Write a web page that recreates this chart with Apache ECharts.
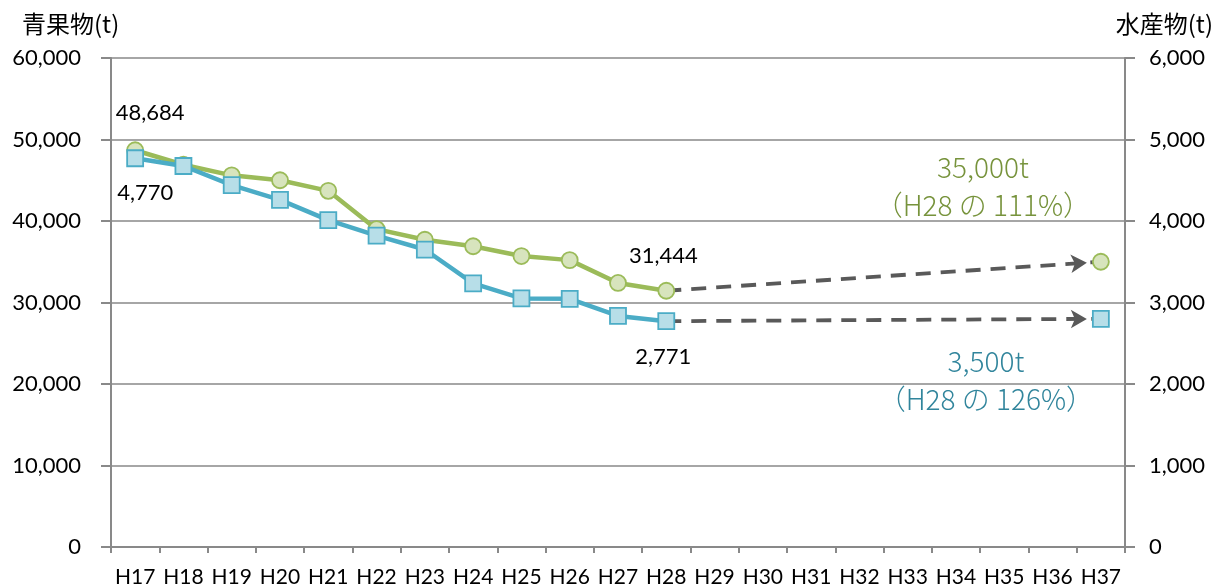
<!DOCTYPE html>
<html><head><meta charset="utf-8">
<script src="https://cdn.jsdelivr.net/npm/echarts@6/dist/echarts.min.js"></script>
<style>html,body{margin:0;padding:0;background:#fff}#c{width:1218px;height:588px}</style>
</head><body><div id="c"></div>
<script>
const categories = ['H17','H18','H19','H20','H21','H22','H23','H24','H25','H26','H27','H28','H29','H30','H31','H32','H33','H34','H35','H36','H37'];
const produce = [48684,46900,45600,45000,43700,39000,37700,36900,35700,35200,32400,31444,null,null,null,null,null,null,null,null,35000];
const seafood = [4770,4675,4440,4260,4010,3820,3650,3235,3050,3045,2835,2771,null,null,null,null,null,null,null,null,2800];
const leftTicks = [0,10000,20000,30000,40000,50000,60000];
const rightTicks = [0,1000,2000,3000,4000,5000,6000];
const produceTarget = ['35,000t','（H28 の 111%）'];
const seafoodTarget = ['3,500t','（H28 の 126%）'];
const leftTitle = '青果物(t)';
const rightTitle = '水産物(t)';

const FONT = 'Lato, "Noto Sans CJK JP", sans-serif';
const JFONT = '"Noto Sans CJK JP", Lato, sans-serif';
const fmt = v => v.toLocaleString('en-US');
const gray = '#898989';

function buildData(arr, labels) {
  return arr.map((v, i) => {
    if (v == null) return null;
    const item = { value: v };
    if (labels[i]) item.label = labels[i];
    return item;
  });
}
const lastIdx = categories.length - 1;
const baseIdx = 11;

const numLabel = (offset) => ({ show: true, position: 'inside', offset, formatter: p => fmt(p.value), color: '#000', fontSize: 22, fontFamily: FONT });
const noteLabel = (offset, lines, color) => ({ show: true, position: 'inside', offset, formatter: () => lines.join('\n'), color, fontSize: 28, fontWeight: 300, lineHeight: 38, fontFamily: JFONT, align: 'center' });

const produceLabels = {};
produceLabels[0] = numLabel([15, -37]);
produceLabels[baseIdx] = numLabel([-3, -35]);
produceLabels[lastIdx] = noteLabel([-118, -75], produceTarget, '#77933c');

const seafoodLabels = {};
seafoodLabels[0] = numLabel([10, 35]);
seafoodLabels[baseIdx] = numLabel([-3, 36]);
seafoodLabels[lastIdx] = noteLabel([-115, 62], seafoodTarget, '#31859c');

const arrowLine = {
  silent: true,
  z: 1,
  symbol: ['none', 'arrow'],
  symbolSize: [14, 16],
  symbolOffset: [0, [0, 14]],
  label: { show: false },
  lineStyle: { color: '#595959', width: 3.8, type: [15, 10] },
};

const titleStyle = (t) => ({ text: t, fill: '#000', fontSize: 24, fontFamily: '"Noto Sans CJK JP"' });

const chart = echarts.init(document.getElementById('c'), null, { renderer: 'canvas' });
chart.setOption({
  animation: false,
  backgroundColor: '#fff',
  textStyle: { fontFamily: FONT },
  grid: { left: 111, right: 93, top: 58, bottom: 41 },
  graphic: [
    { type: 'text', left: 22, top: 12, style: titleStyle(leftTitle) },
    { type: 'text', right: 5, top: 12, style: titleStyle(rightTitle) },
  ],
  xAxis: {
    type: 'category',
    data: categories,
    boundaryGap: true,
    axisLine: { lineStyle: { color: gray, width: 2 } },
    axisTick: { show: true, interval: 0, length: 6, lineStyle: { color: gray, width: 2 } },
    axisLabel: { interval: 0, color: '#000', fontSize: 21, margin: 20, fontFamily: FONT },
  },
  yAxis: [
    {
      type: 'value', min: leftTicks[0], max: leftTicks[leftTicks.length - 1], interval: leftTicks[1] - leftTicks[0],
      axisLine: { show: true, lineStyle: { color: gray, width: 2 } },
      axisTick: { show: true, length: 10, lineStyle: { color: gray, width: 2 } },
      axisLabel: { color: '#000', fontSize: 22, margin: 30, fontFamily: FONT, formatter: v => fmt(v) },
      splitLine: { show: true, lineStyle: { color: gray, width: 1.5 } },
    },
    {
      type: 'value', min: rightTicks[0], max: rightTicks[rightTicks.length - 1], interval: rightTicks[1] - rightTicks[0],
      position: 'right',
      axisLine: { show: true, lineStyle: { color: gray, width: 2 } },
      axisTick: { show: true, length: 10, lineStyle: { color: gray, width: 2 } },
      axisLabel: { color: '#000', fontSize: 22, margin: 24, fontFamily: FONT, formatter: v => fmt(v) },
      splitLine: { show: false },
    },
  ],
  series: [
    {
      name: '青果物', type: 'line', yAxisIndex: 0, z: 3,
      data: buildData(produce, produceLabels),
      connectNulls: false,
      symbol: 'circle', symbolSize: 16,
      lineStyle: { color: '#9bbb59', width: 4.5 },
      itemStyle: { color: '#d7e4bd', borderColor: '#9bbb59', borderWidth: 1.8 },
      markLine: Object.assign({}, arrowLine, {
        data: [[{ coord: [categories[baseIdx], produce[baseIdx]] }, { coord: [categories[lastIdx], produce[lastIdx]] }]],
      }),
    },
    {
      name: '水産物', type: 'line', yAxisIndex: 1, z: 4,
      data: buildData(seafood, seafoodLabels),
      connectNulls: false,
      symbol: 'rect', symbolSize: 16,
      lineStyle: { color: '#4bacc6', width: 4.5 },
      itemStyle: { color: '#b7dee8', borderColor: '#4bacc6', borderWidth: 1.8 },
      markLine: Object.assign({}, arrowLine, {
        data: [[{ coord: [categories[baseIdx], seafood[baseIdx]] }, { coord: [categories[lastIdx], seafood[lastIdx]] }]],
      }),
    },
  ],
});
</script></body></html>
